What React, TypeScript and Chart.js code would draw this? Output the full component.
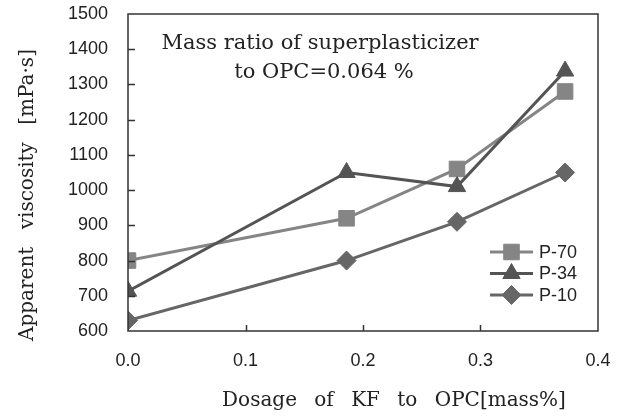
import React, { useEffect, useRef } from "react";
import { Chart, registerables } from "chart.js";

Chart.register(...registerables);

const xP70 = [0, 0.186, 0.28, 0.372];
const yP70 = [800, 920, 1060, 1280];
const xP34 = [0, 0.186, 0.28, 0.372];
const yP34 = [713, 1050, 1010, 1338];
const xP10 = [0, 0.186, 0.28, 0.372];
const yP10 = [630, 800, 910, 1050];

const seriesLabels = ["P-70", "P-34", "P-10"];
const seriesColors = ["#858585", "#545454", "#666666"];
const seriesStyles = ["rect", "triangle", "rectRot"];
const seriesRadius = [11, 10, 9.5];

const noteLines = ["Mass ratio of superplasticizer", "to OPC=0.064 %"];
const xTitle = "Dosage of KF to OPC[mass%]";
const yTitle = "Apparent viscosity [mPa\u00b7s]";

const xMin = 0, xMax = 0.4, xStep = 0.1;
const yMin = 600, yMax = 1500, yStep = 100;

const SERIF = "'DejaVu Serif', 'Liberation Serif', serif";
const SANS = "'Liberation Sans', Arial, sans-serif";

const toPts = (xs: number[], ys: number[]) => xs.map((x, i) => ({ x, y: ys[i] }));

function drawMarker(ctx: CanvasRenderingContext2D, style: string, r: number, x: number, y: number) {
  ctx.beginPath();
  if (style === "rect") {
    const s = Math.SQRT1_2 * r;
    ctx.rect(x - s, y - s, 2 * s, 2 * s);
  } else if (style === "triangle") {
    ctx.moveTo(x, y - r);
    ctx.lineTo(x + r * Math.cos(Math.PI / 6), y + r * 0.5);
    ctx.lineTo(x - r * Math.cos(Math.PI / 6), y + r * 0.5);
    ctx.closePath();
  } else {
    ctx.moveTo(x, y - r);
    ctx.lineTo(x + r, y);
    ctx.lineTo(x, y + r);
    ctx.lineTo(x - r, y);
    ctx.closePath();
  }
  ctx.fill();
  ctx.stroke();
}

const decorPlugin = {
  id: "decor",
  afterDraw(chart: any) {
    const ctx = chart.ctx as CanvasRenderingContext2D;
    const a = chart.chartArea;
    const xs = chart.scales.x;
    const ys = chart.scales.y;
    ctx.save();
    // frame
    ctx.strokeStyle = "#333";
    ctx.lineWidth = 1.5;
    ctx.strokeRect(a.left, a.top, a.right - a.left, a.bottom - a.top);
    // inner ticks
    ctx.beginPath();
    ys.ticks.forEach((t: any) => {
      if (t.value <= yMin || t.value >= yMax) return;
      const py = Math.round(ys.getPixelForValue(t.value)) + 0.5;
      ctx.moveTo(a.left, py);
      ctx.lineTo(a.left + 7, py);
    });
    xs.ticks.forEach((t: any) => {
      if (t.value <= xMin + 1e-9 || t.value >= xMax - 1e-9) return;
      const px = Math.round(xs.getPixelForValue(t.value)) + 0.5;
      ctx.moveTo(px, a.bottom);
      ctx.lineTo(px, a.bottom - 6);
    });
    ctx.stroke();

    // note text
    ctx.fillStyle = "#222";
    ctx.font = `21px ${SERIF}`;
    ctx.textAlign = "center";
    ctx.textBaseline = "middle";
    ctx.fillText(noteLines[0], 320, 44);
    ctx.fillText(noteLines[1], 324, 73);

    // axis titles
    (ctx as any).wordSpacing = "11px";
    ctx.font = `20px ${SERIF}`;
    ctx.fillText(xTitle, 394, 401);
    (ctx as any).wordSpacing = "11px";
    ctx.save();
    ctx.translate(28, 195);
    ctx.rotate(-Math.PI / 2);
    ctx.fillText(yTitle, 0, 0);
    ctx.restore();
    (ctx as any).wordSpacing = "0px";

    // legend
    const lx0 = 490, lx1 = 533, ly0 = 252, ldy = 21.5;
    chart.data.datasets.forEach((ds: any, i: number) => {
      const ly = ly0 + i * ldy;
      ctx.strokeStyle = ds.borderColor;
      ctx.lineWidth = 3;
      ctx.beginPath();
      ctx.moveTo(lx0, ly);
      ctx.lineTo(lx1, ly);
      ctx.stroke();
      ctx.fillStyle = ds.pointBackgroundColor;
      ctx.strokeStyle = ds.pointBorderColor;
      ctx.lineWidth = 1;
      drawMarker(ctx, ds.pointStyle, ds.pointRadius, (lx0 + lx1) / 2, ly);
      ctx.fillStyle = "#222";
      ctx.font = `18px ${SANS}`;
      ctx.textAlign = "left";
      ctx.textBaseline = "middle";
      ctx.fillText(ds.label, 539, ly + 1);
    });
    ctx.restore();
  },
};

export default function App() {
  const ref = useRef<HTMLCanvasElement | null>(null);
  useEffect(() => {
    if (!ref.current) return;
    const data = [toPts(xP70, yP70), toPts(xP34, yP34), toPts(xP10, yP10)];
    const chart = new Chart(ref.current, {
      type: "line",
      data: {
        datasets: data.map((d, i) => ({
          label: seriesLabels[i],
          data: d,
          borderColor: seriesColors[i],
          backgroundColor: seriesColors[i],
          pointBackgroundColor: seriesColors[i],
          pointBorderColor: seriesColors[i],
          pointBorderWidth: 1,
          pointStyle: seriesStyles[i] as any,
          pointRadius: seriesRadius[i],
          borderWidth: 3,
          tension: 0,
          order: 3 - i,
        })),
      },
      options: {
        animation: false,
        responsive: false,
        devicePixelRatio: 1,
        layout: { padding: { left: 0, top: 14, right: 24, bottom: 0 } },
        plugins: { legend: { display: false }, tooltip: { enabled: false } },
        scales: {
          x: {
            type: "linear",
            min: xMin,
            max: xMax,
            ticks: {
              stepSize: xStep,
              padding: 19,
              color: "#222",
              font: { family: SANS, size: 18 },
              callback: (v: any) => Number(v).toFixed(1),
            },
            grid: { drawOnChartArea: false, drawTicks: false },
            border: { display: false },
            afterFit: (s: any) => { s.height = 85; s.paddingLeft = 0; s.paddingRight = 0; },
          },
          y: {
            type: "linear",
            min: yMin,
            max: yMax,
            ticks: {
              stepSize: yStep,
              padding: 20,
              color: "#222",
              font: { family: SANS, size: 18 },
              callback: (v: any) => String(v),
            },
            grid: { drawOnChartArea: false, drawTicks: false },
            border: { display: false },
            afterFit: (s: any) => { s.width = 128; s.paddingTop = 0; s.paddingBottom = 0; },
          },
        },
      },
      plugins: [decorPlugin],
    });
    return () => chart.destroy();
  }, []);
  return (
    <div style={{ position: "fixed", left: 0, top: 0, width: 622, height: 416, background: "#fff" }}>
      <canvas ref={ref} width={622} height={416} />
    </div>
  );
}
